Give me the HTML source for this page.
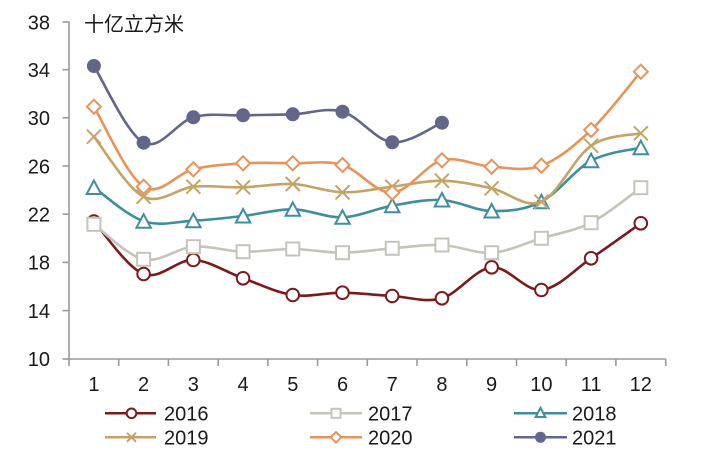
<!DOCTYPE html>
<html>
<head>
<meta charset="utf-8">
<style>
html,body{margin:0;padding:0;background:#fff;}
svg{display:block;}
text{font-family:"Liberation Sans","Noto Sans CJK SC",sans-serif;fill:#1a1a1a;}
</style>
</head>
<body>
<svg id="c" width="721" height="455" viewBox="0 0 721 455" xmlns="http://www.w3.org/2000/svg">
<rect width="721" height="455" fill="#fff"/>
<!-- axes -->
<g stroke="#9a9a9a" stroke-width="1.6" fill="none">
<line x1="69" y1="21.5" x2="69" y2="359"/>
<line x1="69" y1="359" x2="665.7" y2="359"/>
<line x1="62.5" y1="22" x2="69" y2="22"/>
<line x1="62.5" y1="69.7" x2="69" y2="69.7"/>
<line x1="62.5" y1="117.8" x2="69" y2="117.8"/>
<line x1="62.5" y1="166" x2="69" y2="166"/>
<line x1="62.5" y1="214.2" x2="69" y2="214.2"/>
<line x1="62.5" y1="262.4" x2="69" y2="262.4"/>
<line x1="62.5" y1="310.6" x2="69" y2="310.6"/>
<line x1="62.5" y1="359" x2="69" y2="359"/>
<line x1="69" y1="359" x2="69" y2="366"/>
<line x1="118.7" y1="359" x2="118.7" y2="366"/>
<line x1="168.4" y1="359" x2="168.4" y2="366"/>
<line x1="218.2" y1="359" x2="218.2" y2="366"/>
<line x1="267.9" y1="359" x2="267.9" y2="366"/>
<line x1="317.6" y1="359" x2="317.6" y2="366"/>
<line x1="367.3" y1="359" x2="367.3" y2="366"/>
<line x1="417" y1="359" x2="417" y2="366"/>
<line x1="466.8" y1="359" x2="466.8" y2="366"/>
<line x1="516.5" y1="359" x2="516.5" y2="366"/>
<line x1="566.2" y1="359" x2="566.2" y2="366"/>
<line x1="615.9" y1="359" x2="615.9" y2="366"/>
<line x1="665.7" y1="359" x2="665.7" y2="366"/>
</g>
<!-- y labels -->
<g font-size="20" text-anchor="end">
<text x="50" y="29.3">38</text>
<text x="50" y="77">34</text>
<text x="50" y="125.1">30</text>
<text x="50" y="173.3">26</text>
<text x="50" y="221.5">22</text>
<text x="50" y="269.7">18</text>
<text x="50" y="317.9">14</text>
<text x="50" y="366.2">10</text>
</g>
<!-- x labels -->
<g font-size="20" text-anchor="middle">
<text x="93.9" y="391">1</text>
<text x="143.6" y="391">2</text>
<text x="193.3" y="391">3</text>
<text x="243" y="391">4</text>
<text x="292.8" y="391">5</text>
<text x="342.5" y="391">6</text>
<text x="392.2" y="391">7</text>
<text x="441.9" y="391">8</text>
<text x="491.6" y="391">9</text>
<text x="541.4" y="391">10</text>
<text x="591.1" y="391">11</text>
<text x="640.8" y="391">12</text>
</g>
<text x="84" y="31" font-size="20" style="font-family:'Noto Sans CJK SC',sans-serif">十亿立方米</text>
<g id="series"></g>
<!-- legend -->
<g stroke-width="2.5" fill="#fff">
<line x1="105" y1="413.3" x2="156" y2="413.3" stroke="#7b1a1c"/>
<circle cx="131.5" cy="413.3" r="4.8" stroke="#7b1a1c" stroke-width="2"/>
<line x1="310" y1="413.3" x2="362" y2="413.3" stroke="#c4c4ba"/>
<rect x="331.5" y="408.8" width="9" height="9" stroke="#c4c4ba" stroke-width="2"/>
<line x1="514" y1="413.3" x2="567" y2="413.3" stroke="#3f8e9e"/>
<path d="M540.5,407.8 L545.3,417 L535.7,417 Z" stroke="#3f8e9e" stroke-width="2"/>
<line x1="105" y1="437.3" x2="156" y2="437.3" stroke="#c3a466"/>
<path d="M127,432.8 L136,441.8 M136,432.8 L127,441.8" stroke="#c3a466" stroke-width="2"/>
<line x1="310" y1="437.3" x2="362" y2="437.3" stroke="#e8935a"/>
<path d="M336,432 L341.3,437.3 L336,442.6 L330.7,437.3 Z" stroke="#e8935a" stroke-width="2"/>
<line x1="514" y1="437.3" x2="567" y2="437.3" stroke="#62668a"/>
<circle cx="540.5" cy="437.3" r="5.5" fill="#62668a" stroke="none"/>
</g>
<g font-size="20">
<text x="164" y="420.5">2016</text>
<text x="368" y="420.5">2017</text>
<text x="572" y="420.5">2018</text>
<text x="164" y="444.5">2019</text>
<text x="368" y="444.5">2020</text>
<text x="572" y="444.5">2021</text>
</g>
</svg>
<script>
(function(){
var NS="http://www.w3.org/2000/svg";
var g=document.getElementById("series");
function X(i){return 93.9+i*49.72;}
var S=[
 {c:"#7b1a1c",m:"circle",d:[221.5,274,260,278.3,295,292.7,296,298.3,267.3,290,258.3,223.3]},
 {c:"#c4c4ba",m:"square",d:[224.3,259.3,246.7,251.7,249,252.7,248.3,245,252.7,238.3,222.7,187.7]},
 {c:"#3f8e9e",m:"tri",d:[187.5,221.2,220.7,216,209.3,217.3,205.7,200,211,201.7,160.7,147.7]},
 {c:"#c3a466",m:"x",d:[136.7,196.7,186.7,187.3,184,192.3,186.7,180.7,188.3,201.7,145.7,133.3]},
 {c:"#e8935a",m:"diamond",d:[106.7,186.7,169.3,163.3,163.3,165,192.7,160.3,166.7,165.7,130,71.7]},
 {c:"#62668a",m:"dot",d:[66,142.7,117.3,115.3,114.3,111.7,142.3,122.7]}
];
function el(n,a){var e=document.createElementNS(NS,n);for(var k in a)e.setAttribute(k,a[k]);return e;}
S.forEach(function(s){
 var p=s.d.map(function(y,i){return [X(i),y];});
 var d="M"+p[0][0].toFixed(1)+","+p[0][1].toFixed(1);
 var t=1/6;
 for(var i=0;i<p.length-1;i++){
  var p0=p[i-1]||p[i],p1=p[i],p2=p[i+1],p3=p[i+2]||p[i+1];
  var c1x=p1[0]+(p2[0]-p0[0])*t,c1y=p1[1]+(p2[1]-p0[1])*t;
  var c2x=p2[0]-(p3[0]-p1[0])*t,c2y=p2[1]-(p3[1]-p1[1])*t;
  d+=" C"+c1x.toFixed(1)+","+c1y.toFixed(1)+" "+c2x.toFixed(1)+","+c2y.toFixed(1)+" "+p2[0].toFixed(1)+","+p2[1].toFixed(1);
 }
 g.appendChild(el("path",{d:d,fill:"none",stroke:s.c,"stroke-width":2.6,"stroke-linejoin":"round","stroke-linecap":"round"}));
 p.forEach(function(q){
  var x=q[0],y=q[1];
  if(s.m=="circle")g.appendChild(el("circle",{cx:x,cy:y,r:6.3,fill:"#fff",stroke:s.c,"stroke-width":2}));
  else if(s.m=="square")g.appendChild(el("rect",{x:x-6.5,y:y-6.5,width:13,height:13,fill:"#fff",stroke:s.c,"stroke-width":2}));
  else if(s.m=="tri")g.appendChild(el("path",{d:"M"+x+","+(y-7)+" L"+(x+7.2)+","+(y+6.5)+" L"+(x-7.2)+","+(y+6.5)+" Z",fill:"#fff",stroke:s.c,"stroke-width":2}));
  else if(s.m=="x")g.appendChild(el("path",{d:"M"+(x-7)+","+(y-7)+" L"+(x+7)+","+(y+7)+" M"+(x+7)+","+(y-7)+" L"+(x-7)+","+(y+7),fill:"none",stroke:s.c,"stroke-width":2}));
  else if(s.m=="diamond")g.appendChild(el("path",{d:"M"+x+","+(y-7)+" L"+(x+7)+","+y+" L"+x+","+(y+7)+" L"+(x-7)+","+y+" Z",fill:"#fff",stroke:s.c,"stroke-width":2}));
  else if(s.m=="dot")g.appendChild(el("circle",{cx:x,cy:y,r:7,fill:s.c}));
 });
});
})();
</script>
</body>
</html>
